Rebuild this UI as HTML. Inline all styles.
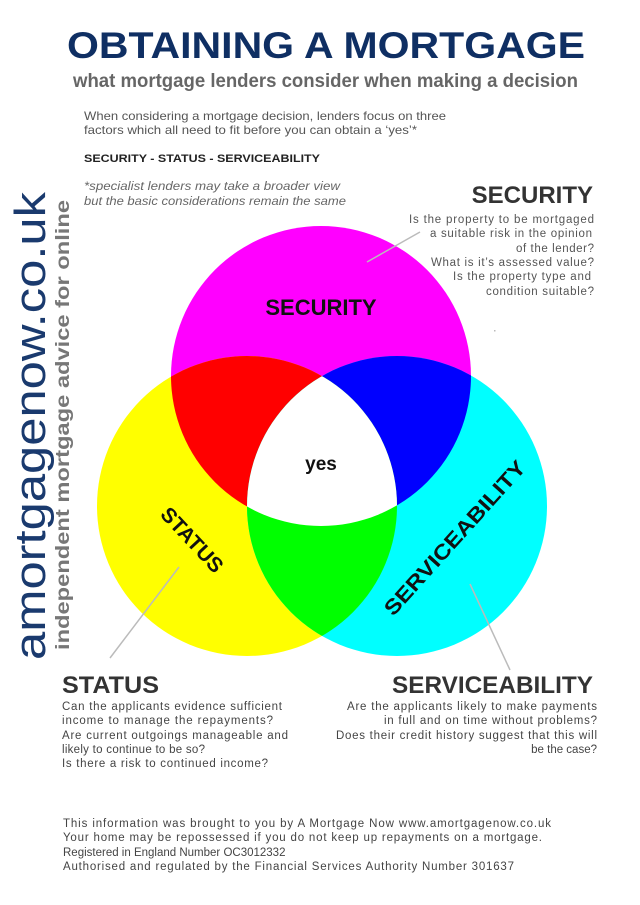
<!DOCTYPE html>
<html><head><meta charset="utf-8"><style>
html,body{margin:0;padding:0;background:#fff;}
svg{display:block;}
text{font-family:"Liberation Sans",Arial,sans-serif;}
</style></head><body>
<svg width="640" height="905" viewBox="0 0 640 905" xmlns="http://www.w3.org/2000/svg">
<defs>
<clipPath id="cm"><circle cx="321" cy="376" r="150"/></clipPath>
<clipPath id="cy"><circle cx="247" cy="506" r="150"/></clipPath>
<clipPath id="cc"><circle cx="397" cy="506" r="150"/></clipPath>
</defs>
<rect width="640" height="905" fill="#fff"/>
<text x="67" y="58" font-size="37" font-weight="bold" fill="#0f2f63" textLength="518" lengthAdjust="spacingAndGlyphs">OBTAINING A MORTGAGE</text>
<text x="73" y="87" font-size="19" font-weight="bold" fill="#666" textLength="505" lengthAdjust="spacingAndGlyphs">what mortgage lenders consider when making a decision</text>
<g font-size="12" fill="#555">
<text x="84" y="120" textLength="362" lengthAdjust="spacingAndGlyphs">When considering a mortgage decision, lenders focus on three</text>
<text x="84" y="134" textLength="333" lengthAdjust="spacingAndGlyphs">factors which all need to fit before you can obtain a ‘yes’*</text>
</g>
<text x="84" y="162" font-size="11" font-weight="bold" fill="#222" textLength="236" lengthAdjust="spacingAndGlyphs">SECURITY - STATUS - SERVICEABILITY</text>
<g font-size="11.5" font-style="italic" fill="#666">
<text x="84" y="190" textLength="256" lengthAdjust="spacingAndGlyphs">*specialist lenders may take a broader view</text>
<text x="84" y="205" textLength="262" lengthAdjust="spacingAndGlyphs">but the basic considerations remain the same</text>
</g>
<text transform="translate(45,660) rotate(-90)" font-size="44" fill="#1a3a6e" textLength="468" lengthAdjust="spacingAndGlyphs">amortgagenow.co.uk</text>
<text transform="translate(69,650) rotate(-90)" font-size="19" font-weight="bold" fill="#777" textLength="450" lengthAdjust="spacingAndGlyphs">independent mortgage advice for online</text>
<circle cx="321" cy="376" r="150" fill="#ff00ff"/>
<circle cx="247" cy="506" r="150" fill="#ffff00"/>
<circle cx="397" cy="506" r="150" fill="#00ffff"/>
<circle cx="247" cy="506" r="150" fill="#ff0000" clip-path="url(#cm)"/>
<circle cx="397" cy="506" r="150" fill="#0000ff" clip-path="url(#cm)"/>
<circle cx="397" cy="506" r="150" fill="#00ff00" clip-path="url(#cy)"/>
<g clip-path="url(#cm)"><circle cx="397" cy="506" r="150" fill="#fff" clip-path="url(#cy)"/></g>
<text x="321" y="315" font-size="22" font-weight="bold" fill="#111" text-anchor="middle">SECURITY</text>
<text x="321" y="470" font-size="19" font-weight="bold" fill="#111" text-anchor="middle">yes</text>
<text transform="translate(192,540) rotate(47)" font-size="21" font-weight="bold" fill="#111" text-anchor="middle" dy="7">STATUS</text>
<text transform="translate(455,538) rotate(-48)" font-size="21" font-weight="bold" fill="#111" text-anchor="middle" dy="7" textLength="200" lengthAdjust="spacingAndGlyphs">SERVICEABILITY</text>
<g stroke="#bbb" stroke-width="1.5">
<line x1="420" y1="232" x2="367" y2="262"/>
<line x1="179" y1="567" x2="110" y2="658"/>
<line x1="470" y1="584" x2="510" y2="670"/>
</g>
<rect x="494" y="330" width="1.5" height="1.5" fill="#bbb"/>
<text x="593" y="203" font-size="24" font-weight="bold" fill="#333" text-anchor="end">SECURITY</text>
<g font-size="11.5" fill="#555" text-anchor="end">
<text x="594" y="223" textLength="185" lengthAdjust="spacing">Is the property to be mortgaged</text>
<text x="592" y="237" textLength="162" lengthAdjust="spacing">a suitable risk in the opinion</text>
<text x="594" y="252" textLength="78" lengthAdjust="spacing">of the lender?</text>
<text x="594" y="266" textLength="163" lengthAdjust="spacing">What is it’s assessed value?</text>
<text x="591" y="280" textLength="138" lengthAdjust="spacing">Is the property type and</text>
<text x="594" y="295" textLength="108" lengthAdjust="spacing">condition suitable?</text>
</g>
<text x="62" y="693" font-size="24" font-weight="bold" fill="#333" textLength="97" lengthAdjust="spacingAndGlyphs">STATUS</text>
<g font-size="11.5" fill="#444">
<text x="62" y="710" textLength="220" lengthAdjust="spacing">Can the applicants evidence sufficient</text>
<text x="62" y="724" textLength="211" lengthAdjust="spacing">income to manage  the repayments?</text>
<text x="62" y="739" textLength="226" lengthAdjust="spacing">Are current outgoings manageable and</text>
<text x="62" y="753" textLength="143" lengthAdjust="spacing">likely to continue to be so?</text>
<text x="62" y="767" textLength="206" lengthAdjust="spacing">Is there a risk to continued income?</text>
</g>
<text x="593" y="693" font-size="24" font-weight="bold" fill="#333" text-anchor="end" textLength="201" lengthAdjust="spacingAndGlyphs">SERVICEABILITY</text>
<g font-size="11.5" fill="#444" text-anchor="end">
<text x="597" y="710" textLength="250" lengthAdjust="spacing">Are the applicants likely to make payments</text>
<text x="597" y="724" textLength="213" lengthAdjust="spacing">in full and on time without  problems?</text>
<text x="597" y="739" textLength="261" lengthAdjust="spacing">Does their credit history suggest that this will</text>
<text x="597" y="753">be the case?</text>
</g>
<g font-size="11.5" fill="#444">
<text x="63" y="827" textLength="488" lengthAdjust="spacing">This information was brought to you  by A Mortgage Now www.amortgagenow.co.uk</text>
<text x="63" y="841" textLength="479" lengthAdjust="spacing">Your home may be repossessed if you do not keep up repayments on a mortgage.</text>
<text x="63" y="856">Registered in England Number OC3012332</text>
<text x="63" y="870" textLength="451" lengthAdjust="spacing">Authorised and regulated by the Financial Services Authority Number 301637</text>
</g>
</svg>
</body></html>
